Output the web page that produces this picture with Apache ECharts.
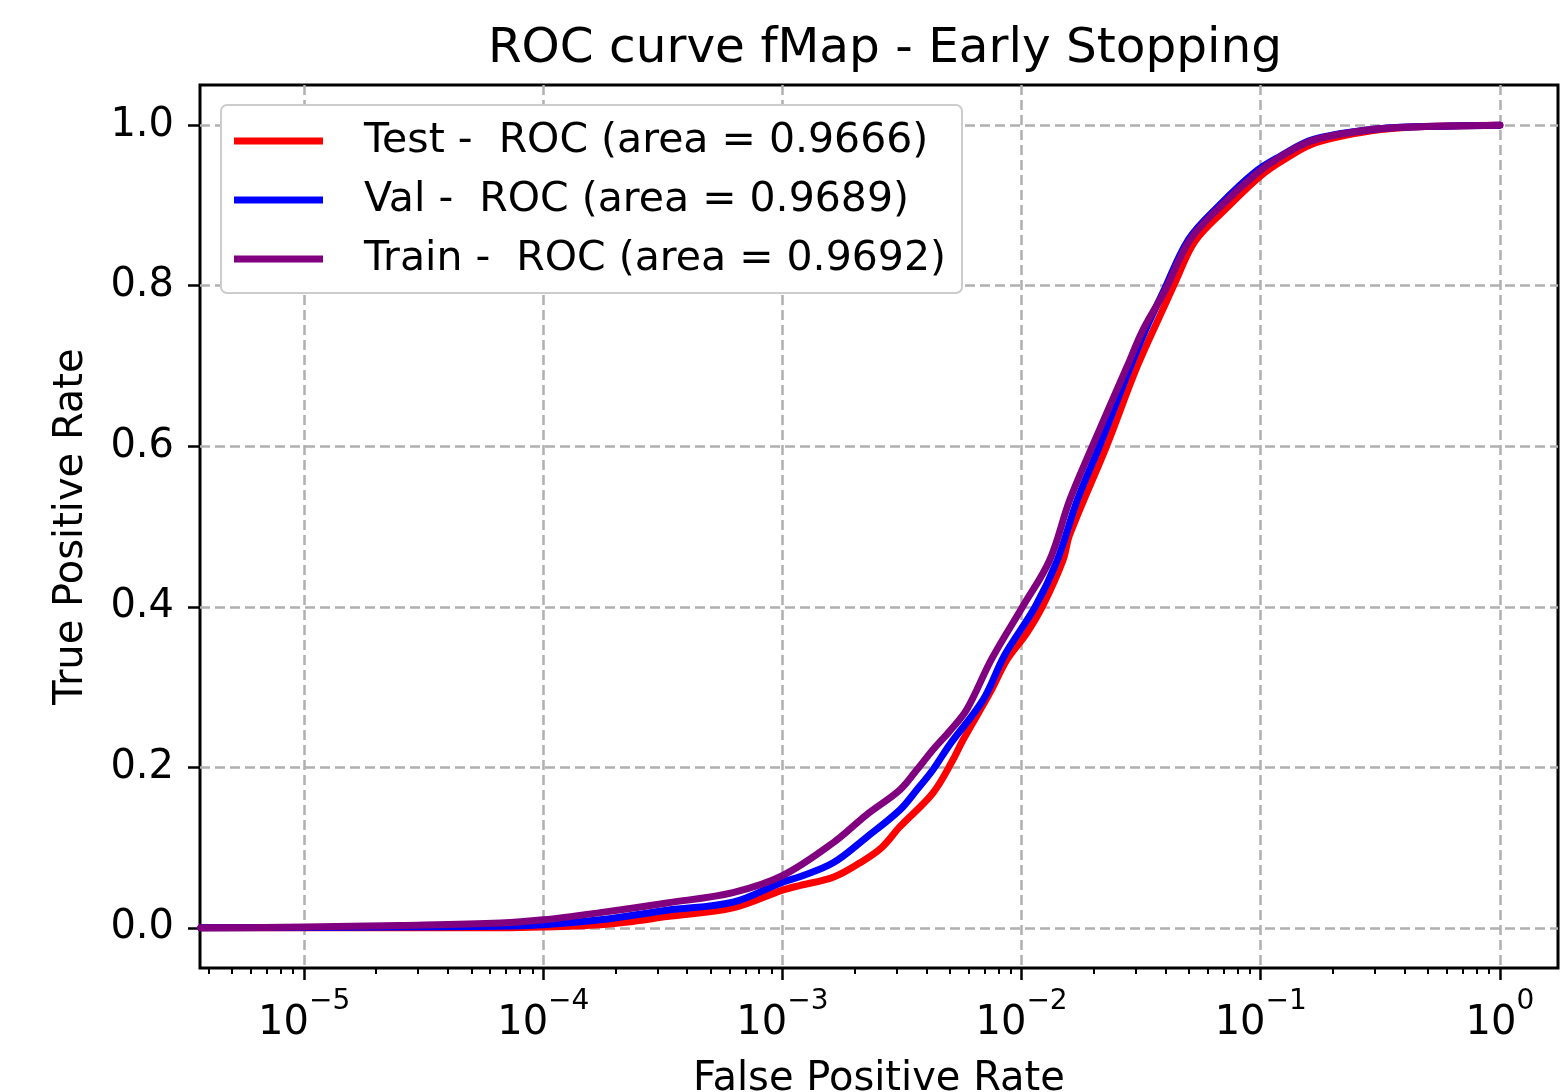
<!DOCTYPE html>
<html>
<head>
<meta charset="utf-8">
<title>ROC curve fMap - Early Stopping</title>
<script src="https://cdn.jsdelivr.net/npm/echarts@6/dist/echarts.min.js"></script>
<style>
  html, body { margin: 0; padding: 0; background: #ffffff; }
  #chart { width: 1562px; height: 1092px; }
</style>
</head>
<body>
<div id="chart"></div>
<script>
// ROC curves: false positive rate (log scale) vs true positive rate
const testFpr = [3.7e-6, 6.6e-5, 1.0e-4, 1.73e-4, 2.37e-4, 3.29e-4, 6.21e-4, 1.0e-3, 1.19e-3, 1.63e-3, 2.11e-3, 2.6e-3, 3.1e-3, 4.26e-3, 5.16e-3, 5.69e-3, 7.38e-3, 8.69e-3, 1.05e-2, 1.23e-2, 1.49e-2, 1.59e-2, 2.28e-2, 3.04e-2, 4.06e-2, 4.4e-2, 5.3e-2, 7.1e-2, 0.10, 0.125, 0.17, 0.29, 0.46, 1.0];
const testTpr = [0.000, 0.000, 0.001, 0.004, 0.008, 0.014, 0.025, 0.047, 0.053, 0.063, 0.081, 0.100, 0.126, 0.168, 0.209, 0.234, 0.293, 0.334, 0.367, 0.402, 0.458, 0.490, 0.602, 0.699, 0.782, 0.805, 0.855, 0.895, 0.937, 0.957, 0.978, 0.993, 0.998, 1.000];

const valFpr = [3.7e-6, 2.5e-5, 6.6e-5, 1.0e-4, 1.73e-4, 3.29e-4, 6.21e-4, 1.0e-3, 1.19e-3, 1.63e-3, 2.25e-3, 3.1e-3, 3.65e-3, 4.26e-3, 5.0e-3, 6.9e-3, 8.5e-3, 1.14e-2, 1.41e-2, 1.71e-2, 2.13e-2, 2.85e-2, 3.3e-2, 3.95e-2, 5.0e-2, 6.7e-2, 9.5e-2, 0.12, 0.165, 0.28, 0.45, 1.0];
const valTpr = [0.000, 0.001, 0.002, 0.004, 0.010, 0.022, 0.032, 0.057, 0.064, 0.081, 0.113, 0.147, 0.172, 0.197, 0.228, 0.284, 0.340, 0.400, 0.458, 0.533, 0.602, 0.699, 0.745, 0.795, 0.858, 0.900, 0.942, 0.961, 0.982, 0.994, 0.998, 1.000];

const trainFpr = [3.7e-6, 1.0e-5, 2.5e-5, 6.6e-5, 1.0e-4, 1.73e-4, 3.29e-4, 6.21e-4, 1.0e-3, 1.63e-3, 2.25e-3, 3.1e-3, 3.65e-3, 4.26e-3, 5.0e-3, 5.9e-3, 7.5e-3, 1.01e-2, 1.31e-2, 1.59e-2, 1.99e-2, 2.76e-2, 3.22e-2, 3.95e-2, 5.06e-2, 6.75e-2, 9.63e-2, 0.12, 0.165, 0.278, 0.45, 1.0];
const trainTpr = [0.000, 0.001, 0.003, 0.006, 0.010, 0.019, 0.031, 0.044, 0.065, 0.106, 0.141, 0.172, 0.197, 0.222, 0.245, 0.272, 0.335, 0.400, 0.458, 0.533, 0.602, 0.699, 0.745, 0.792, 0.857, 0.898, 0.940, 0.960, 0.981, 0.994, 0.998, 1.000];

const seriesNames = ['Test -  ROC (area = 0.9666)', 'Val -  ROC (area = 0.9689)', 'Train -  ROC (area = 0.9692)'];
const seriesColors = ['#ff0000', '#0000ff', '#800080'];

const xMajorTicks = [1e-5, 1e-4, 1e-3, 1e-2, 1e-1, 1];
const yTicks = [0.0, 0.2, 0.4, 0.6, 0.8, 1.0];

const xMin = 3.67e-6, xMax = 1.75;
const yMin = -0.05, yMax = 1.05;

// minor log ticks at 2..9 x 10^n inside the visible range
const xMinorTicks = [];
for (let n = -6; n <= 0; n++) {
  for (let k = 2; k <= 9; k++) {
    const v = k * Math.pow(10, n);
    if (v > xMin && v < xMax) xMinorTicks.push(v);
  }
}

const pairs = (xs, ys) => xs.map((x, i) => [x, ys[i]]);
const curves = [pairs(testFpr, testTpr), pairs(valFpr, valTpr), pairs(trainFpr, trainTpr)];

const FONT = 'DejaVu Sans';
const gridLine = { show: true, lineStyle: { color: '#b0b0b0', width: 2.5, type: [10, 5] } };

const chart = echarts.init(document.getElementById('chart'), null, { renderer: 'canvas' });

chart.setOption({
  backgroundColor: '#ffffff',
  animation: false,
  textStyle: { fontFamily: FONT, color: '#000' },
  title: {
    text: 'ROC curve fMap - Early Stopping',
    left: 880,
    textAlign: 'center',
    top: 20,
    textStyle: { fontFamily: FONT, fontSize: 48.5, fontWeight: 'normal', color: '#000' }
  },
  grid: {
    left: 200, top: 85, width: 1358, height: 883,
    outerBoundsMode: 'none',
    containLabel: false,
    show: true, borderColor: '#000', borderWidth: 3, backgroundColor: 'transparent'
  },
  legend: {
    orient: 'vertical',
    left: 221, top: 105,
    padding: [13, 16, 11, 13],
    itemGap: 13,
    itemWidth: 89, itemHeight: 7,
    icon: 'rect',
    backgroundColor: '#ffffff',
    borderColor: '#cccccc', borderWidth: 2, borderRadius: 6,
    textStyle: { fontFamily: FONT, fontSize: 41, color: '#000', lineHeight: 46, padding: [0, 0, 0, 36] },
    data: seriesNames
  },
  xAxis: [
    {
      type: 'log', logBase: 10, min: xMin, max: xMax,
      name: 'False Positive Rate', nameLocation: 'middle', nameGap: 92,
      nameTextStyle: { fontFamily: FONT, fontSize: 40, color: '#000' },
      axisLine: { show: false, onZero: false },
      axisTick: { show: true, customValues: xMajorTicks, length: 12, lineStyle: { color: '#000', width: 2.5 } },
      axisLabel: {
        customValues: xMajorTicks,
        margin: 20,
        formatter: v => {
          const e = Math.round(Math.log10(v));
          return '{a|10}{b|' + (e < 0 ? '\u2212' + (-e) : String(e)) + '}';
        },
        rich: {
          a: { fontFamily: FONT, fontSize: 40, lineHeight: 56, verticalAlign: 'bottom', color: '#000' },
          b: { fontFamily: FONT, fontSize: 28, lineHeight: 26, verticalAlign: 'top', color: '#000' }
        }
      },
      splitLine: gridLine,
      minorTick: { show: false },
      minorSplitLine: { show: false }
    },
    {
      type: 'log', logBase: 10, min: xMin, max: xMax,
      position: 'bottom',
      axisLine: { show: false, onZero: false },
      axisTick: { show: true, customValues: xMinorTicks, length: 6, lineStyle: { color: '#000', width: 2 } },
      axisLabel: { show: false },
      splitLine: { show: false }
    }
  ],
  yAxis: {
    type: 'value', min: yMin, max: yMax,
    name: 'True Positive Rate', nameLocation: 'middle', nameGap: 108, nameRotate: 90,
    nameTextStyle: { fontFamily: FONT, fontSize: 40, color: '#000' },
    axisLine: { show: false, onZero: false },
    axisTick: { show: true, customValues: yTicks, length: 12, lineStyle: { color: '#000', width: 2.5 } },
    axisLabel: {
      customValues: yTicks, margin: 26,
      fontFamily: FONT, fontSize: 40, color: '#000',
      formatter: v => v.toFixed(1)
    },
    splitLine: gridLine
  },
  series: curves.map((data, i) => ({
    name: seriesNames[i],
    type: 'line',
    xAxisIndex: 0,
    data: data,
    showSymbol: false,
    symbol: 'none',
    smooth: 0.35,
    color: seriesColors[i],
    lineStyle: { color: seriesColors[i], width: 7, join: 'round', cap: 'round' },
    emphasis: { disabled: true },
    z: 2 + i
  }))
});
</script>
</body>
</html>
